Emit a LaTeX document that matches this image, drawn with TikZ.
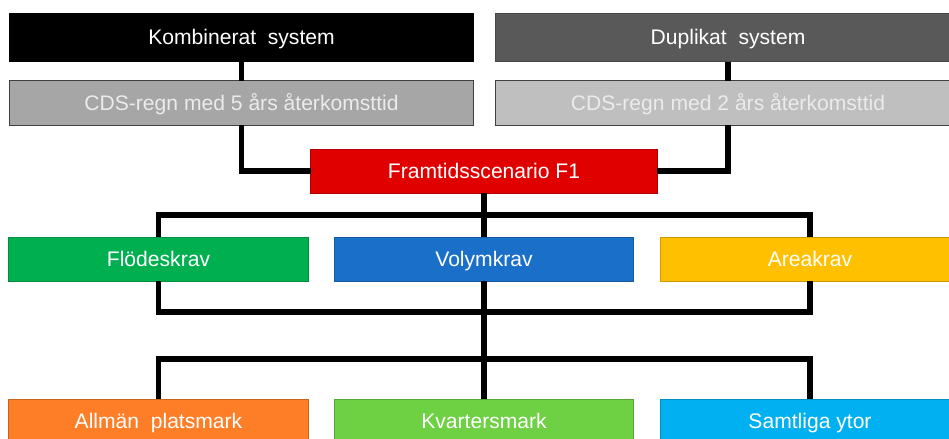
\documentclass[tikz,border=0pt]{standalone}
\usepackage{fontspec}
\setmainfont{Liberation Sans}
\usetikzlibrary{calc}

\definecolor{morkgra}{HTML}{595959}
\definecolor{gra}{HTML}{A6A6A6}
\definecolor{ljusgra}{HTML}{BFBFBF}
\definecolor{rod}{HTML}{E00000}
\definecolor{gron}{HTML}{00B050}
\definecolor{bla}{HTML}{1A70C8}
\definecolor{gul}{HTML}{FFC000}
\definecolor{orange}{HTML}{FD7E27}
\definecolor{ljusgron}{HTML}{6DD143}
\definecolor{ljusbla}{HTML}{00B0F0}

\tikzset{
  ruta/.style={draw=#1!80!black, fill=#1, line width=0.7pt, text=white,
    inner sep=0pt, outer sep=0pt, text height=11pt, text depth=0.5pt,
    font=\fontsize{15}{18}\selectfont},
  bred/.style={minimum width=11.6cm, minimum height=1.1cm},
  mellan/.style={minimum width=8.65cm, minimum height=1.1cm},
  smal/.style={minimum width=7.475cm, minimum height=1.1cm},
  ledning/.style={line width=3.8pt}
}

\begin{document}
\begin{tikzpicture}[x=0.025cm, y=-0.025cm]
  \useasboundingbox (0,0) rectangle (949,439);
  \clip (0,0) rectangle (949,439);

  % system och regn
  \node[ruta=black, bred, minimum height=1.2cm] (komb) at (241.5,37.5) {Kombinerat~~system};
  \node[ruta=morkgra, bred, minimum height=1.2cm] (dup) at (728,37.5) {Duplikat~~system};
  \node[ruta=gra, draw=black!75, bred, text=white!92!black] (cds5) at (241.5,103) {CDS-regn med 5 års återkomsttid};
  \node[ruta=ljusgra, draw=black!75, bred, text=white!92!black] (cds2) at (728,103) {CDS-regn med 2 års återkomsttid};
  \node[ruta=rod, mellan] (f1) at (484,171) {Framtidsscenario F1};

  \foreach \namn/\x/\farg/\txt in {flode/158.5/gron/Flödeskrav, vol/484/bla/Volymkrav, area/810/gul/Areakrav}
    \node[ruta=\farg, smal] (\namn) at (\x,259) {\txt};

  \foreach \namn/\x/\farg/\txt in {allman/158.5/orange/Allmän~~platsmark, kvarter/484/ljusgron/Kvartersmark, samtliga/810/ljusbla/Samtliga ytor}
    \node[ruta=\farg, smal] (\namn) at (\x,421) {\txt};

  % ledningar
  \coordinate (buss1) at ($(f1.south)!0.5!(vol.north)$);
  \coordinate (buss2) at ($(vol.south)+(0,31)$);
  \coordinate (buss3) at ($(kvarter.north)+(0,-40)$);

  \draw[ledning] (komb) -- (cds5);
  \draw[ledning] (dup) -- (cds2);
  \draw[ledning] (cds5.south) |- (f1.west);
  \draw[ledning] (cds2.south) |- (f1.east);
  \draw[ledning] (f1.south) -- (vol.north);
  \draw[ledning] (flode.north) |- (buss1) -| (area.north);
  \draw[ledning] (flode.south) |- (buss2) -| (area.south);
  \draw[ledning] (vol.south) -- (kvarter.north);
  \draw[ledning] (allman.north) |- (buss3) -| (samtliga.north);
\end{tikzpicture}
\end{document}
